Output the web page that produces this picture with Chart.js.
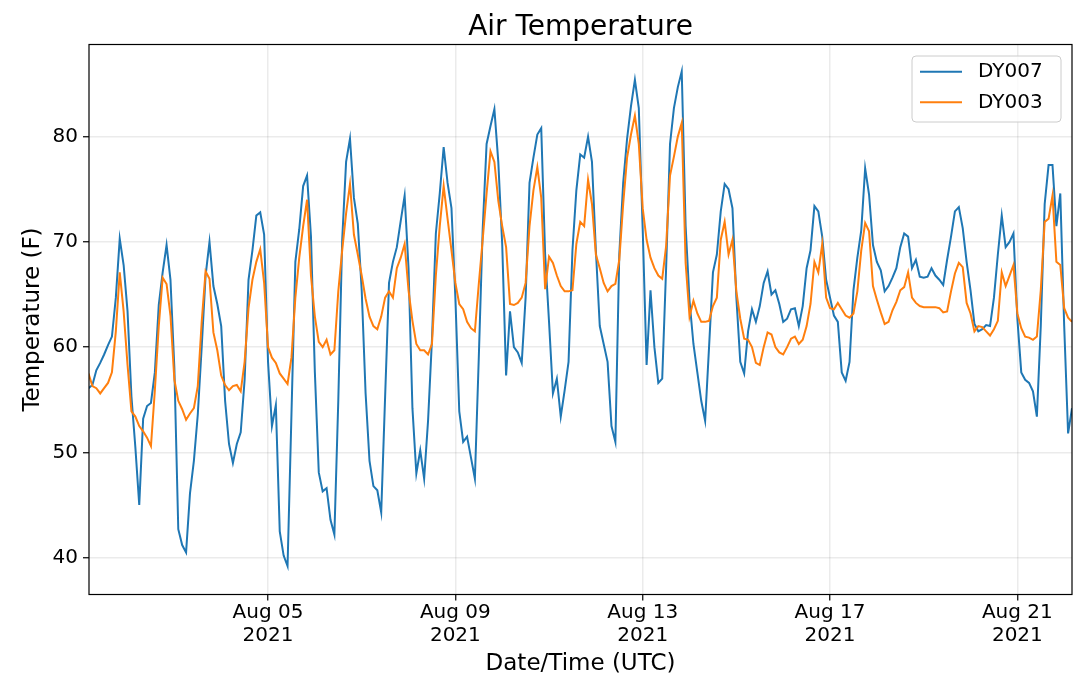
<!DOCTYPE html>
<html>
<head>
<meta charset="utf-8">
<title>Air Temperature</title>
<script src="https://cdn.jsdelivr.net/npm/chart.js@4.4.0/dist/chart.umd.min.js"></script>
<style>
  body { margin: 0; background: #fff; }
  canvas { display: block; }
</style>
</head>
<body>
<canvas id="tempChart" width="1080" height="700"></canvas>
<script>
// ===== Dữ liệu: nhiệt độ không khí, mỗi 2 giờ, từ 01/08 04:00 UTC =====
const startHour = 4; // giờ tính từ 2021-08-01 00:00 UTC
const stepHours = 2;

// DY007 – một dòng cho mỗi ngày
const dy007 = [
  56.1, 56.4, 57.8, 58.5, 59.3, 60.2, 61, 64.7, 70.3, 67.8,
  63.4, 55.3, 50.5, 45, 53.2, 54.4, 54.7, 57.6, 64, 67.1, 69.7, 66.4,
  58, 42.7, 41.2, 40.5, 46.1, 49.2, 53.6, 60, 66.8, 70, 65.8, 64.1,
  62, 54.9, 50.8, 49, 50.8, 51.9, 56.9, 66.4, 69.2, 72.5, 72.8, 70.7,
  58.6, 52.5, 54.5, 42.5, 40.2, 39.2, 53.6, 68.1, 71.2, 75.3, 76.3, 70.5,
  57.6, 48.1, 46.3, 46.6, 43.6, 42.2, 54.9, 70.2, 77.6, 79.8, 74.2, 71.7,
  65.4, 55.6, 49.2, 46.8, 46.4, 44.3, 55.3, 66.1, 68.1, 69.5, 72, 74.4,
  67.5, 54.2, 48, 50.2, 47.5, 53, 60.7, 70.8, 74.6, 79, 75.6, 73.2,
  64.7, 53.9, 51, 51.5, 49.5, 47.5, 59, 71.2, 79.3, 81, 82.6, 77.6,
  69.8, 57.3, 63.4, 60, 59.5, 58.5, 64.7, 75.6, 78, 80.2, 80.8, 68.8,
  62.4, 55.6, 57, 53.4, 55.9, 58.6, 69.2, 74.9, 78.3, 78, 80, 77.6,
  69.2, 62, 60.3, 58.6, 52.5, 51, 68.8, 75.6, 79.8, 82.9, 85.4, 82.7,
  71.2, 58.3, 65.4, 60, 56.6, 57, 67.5, 79.3, 82.7, 84.7, 86.2, 71.5,
  64.4, 60.3, 57.6, 54.9, 53, 60, 67.1, 68.8, 72.9, 75.5, 75, 73.2,
  64.7, 58.6, 57.5, 61.5, 63.6, 62.4, 63.9, 66.1, 67.2, 65, 65.4, 64.1,
  62.4, 62.7, 63.6, 63.7, 62, 63.9, 67.5, 69.2, 73.4, 72.9, 70.5, 66.4,
  64.7, 63, 62.4, 57.6, 56.8, 58.6, 65.4, 68.5, 71.1, 77, 74.5, 69.7,
  68.1, 67.3, 65.3, 65.8, 66.6, 67.5, 69.5, 70.8, 70.5, 67.5, 68.3, 66.7,
  66.6, 66.7, 67.5, 66.8, 66.4, 65.9, 68.3, 70.5, 72.9, 73.3, 71.3, 68.1,
  65.4, 62.2, 61.5, 61.7, 62.1, 62, 64.7, 68.8, 72.5, 69.5, 70, 70.8,
  62.7, 57.6, 56.9, 56.6, 55.8, 53.4, 62, 73.6, 77.3, 77.3, 71.5, 74.6,
  62, 51.8, 54.2,
];

// DY003 – một dòng cho mỗi ngày
const dy003 = [
  57.5, 56.3, 56.1, 55.6, 56.1, 56.6, 57.6, 61.5, 67.1, 63.4,
  58.3, 53.9, 53.4, 52.5, 52, 51.4, 50.6, 55.9, 62, 66.6, 66, 63,
  56.9, 54.9, 54.1, 53.1, 53.7, 54.2, 56.3, 62.4, 67.2, 66.5, 61.4, 59.7,
  57.3, 56.4, 55.9, 56.3, 56.4, 55.8, 58.6, 63.7, 66.4, 68.1, 69.3, 66.1,
  60, 59, 58.5, 57.5, 57, 56.5, 59, 64.7, 68.5, 71.5, 74, 66.8,
  62.9, 60.5, 60, 60.7, 59.3, 59.7, 65.3, 69.2, 72.7, 75.5, 70.7, 68.8,
  66.8, 64.6, 62.9, 62, 61.7, 62.9, 64.7, 65.3, 64.7, 67.5, 68.5, 69.8,
  65.4, 62.5, 60.3, 59.7, 59.7, 59.3, 60.3, 66.8, 71.5, 75.3, 72.2, 69.2,
  66.1, 64.1, 63.6, 62.4, 61.8, 61.5, 66, 70.2, 74.6, 78.6, 77.6, 73.9,
  71.5, 69.5, 64.1, 64, 64.2, 64.7, 66.1, 71.5, 74.9, 77.1, 74.2, 65.5,
  68.6, 68, 66.8, 65.8, 65.3, 65.3, 65.4, 69.8, 71.9, 71.5, 75.9, 73.6,
  68.8, 67.5, 66.1, 65.3, 65.8, 66, 68.3, 73.6, 78, 80.2, 82, 79.3,
  73.2, 70.2, 68.5, 67.5, 66.8, 66.5, 69.6, 76.3, 78.1, 80, 81.3, 68,
  62.9, 64.4, 63.2, 62.4, 62.4, 62.5, 63.9, 64.7, 70.2, 71.9, 68.8, 70.2,
  65.3, 62.7, 60.8, 60.7, 60, 58.5, 58.3, 60, 61.4, 61.2, 60, 59.5,
  59.3, 60, 60.8, 61, 60.3, 60.7, 62, 64.1, 68.1, 67.1, 69.8, 64.7,
  63.7, 63.6, 64.2, 63.6, 63, 62.8, 63.2, 65.3, 69.2, 71.8, 71, 65.8,
  64.5, 63.3, 62.2, 62.4, 63.5, 64.3, 65.4, 65.7, 67.1, 64.7, 64.2, 63.9,
  63.8, 63.8, 63.8, 63.8, 63.7, 63.3, 63.4, 65.3, 67, 68, 67.6, 64.2,
  63.2, 61.5, 62, 61.9, 61.5, 61.1, 61.7, 62.5, 67.1, 65.8, 66.8, 67.8,
  63.2, 61.8, 61, 60.9, 60.7, 61, 65.4, 71.9, 72.2, 74.4, 68.1, 67.8,
  63.7, 62.8, 62.4,
];

// Trục
const xTickHours = [96, 192, 288, 384, 480];
const xTickLabels = [
  ["Aug 05", "2021"],
  ["Aug 09", "2021"],
  ["Aug 13", "2021"],
  ["Aug 17", "2021"],
  ["Aug 21", "2021"],
];
const yTicks = [40, 50, 60, 70, 80];

const hours = dy007.map((_, i) => startHour + i * stepHours);
const toPoints = (vals) => vals.map((v, i) => ({ x: hours[i], y: v }));

// Khung trục 4 cạnh (kiểu matplotlib)
const axesFrame = {
  id: "axesFrame",
  afterDatasetsDraw(chart) {
    const { ctx, chartArea } = chart;
    ctx.save();
    ctx.strokeStyle = "#000";
    ctx.lineWidth = 1.2;
    ctx.strokeRect(chartArea.left, chartArea.top, chartArea.width, chartArea.height);
    ctx.restore();
  },
};

// Chú thích nằm trong vùng vẽ, góc trên phải
const legendInside = {
  id: "legendInside",
  afterDatasetsDraw(chart) {
    const { ctx, chartArea } = chart;
    const bx = chartArea.right - 160;
    const by = chartArea.top + 11.5;
    ctx.save();
    ctx.fillStyle = "rgba(255,255,255,0.8)";
    ctx.strokeStyle = "#cccccc";
    ctx.lineWidth = 1;
    ctx.beginPath();
    ctx.roundRect(bx, by, 149, 66, 4);
    ctx.fill();
    ctx.stroke();
    // thứ tự hiển thị: DY007 rồi DY003
    ["DY007", "DY003"].forEach((name, i) => {
      const ds = chart.data.datasets.find((d) => d.label === name);
      const ly = by + 15.7 + i * 30.6;
      ctx.strokeStyle = ds.borderColor;
      ctx.lineWidth = 2;
      ctx.beginPath();
      ctx.moveTo(bx + 8, ly);
      ctx.lineTo(bx + 50, ly);
      ctx.stroke();
      ctx.fillStyle = "#000";
      ctx.font = "20px 'DejaVu Sans'";
      ctx.textBaseline = "middle";
      ctx.textAlign = "left";
      ctx.fillText(name, bx + 66, ly);
    });
    ctx.restore();
  },
};

Chart.defaults.font.family = "'DejaVu Sans', sans-serif";
Chart.defaults.color = "#000";

const ctxTemp = document.getElementById("tempChart");
new Chart(ctxTemp, {
  type: "line",
  data: {
    datasets: [
      {
        label: "DY007",
        data: toPoints(dy007),
        borderColor: "#1f77b4",
        borderWidth: 2,
        pointRadius: 0,
        tension: 0,
        order: 1,
      },
      {
        label: "DY003",
        data: toPoints(dy003),
        borderColor: "#ff7f0e",
        borderWidth: 2,
        pointRadius: 0,
        tension: 0,
        order: 0,
      },
    ],
  },
  options: {
    responsive: false,
    animation: false,
    layout: { padding: { left: 0, right: 8, top: 0, bottom: 0 } },
    plugins: {
      legend: { display: false },
      tooltip: { enabled: false },
      title: {
        display: true,
        text: "Air Temperature",
        fullSize: false,
        font: { size: 28, weight: "normal" },
        color: "#000",
        padding: { top: 10.5, bottom: 0.4 },
      },
    },
    scales: {
      x: {
        type: "linear",
        min: 4.25,
        max: 508,
        afterFit: (scale) => { scale.height = 105.5; },
        afterBuildTicks: (scale) => {
          scale.ticks = xTickHours.map((v) => ({ value: v }));
        },
        ticks: {
          autoSkip: false,
          maxRotation: 0,
          padding: 1,
          font: { size: 20, lineHeight: 1.15 },
          callback: (value, index) => xTickLabels[index],
        },
        grid: {
          color: "rgba(0,0,0,0.08)",
          lineWidth: 1.5,
          tickLength: 6,
          tickColor: "#000",
          tickWidth: 1.2,
        },
        border: { display: false },
        title: {
          display: true,
          text: "Date/Time (UTC)",
          font: { size: 23 },
          padding: { top: 0, bottom: 22 },
        },
      },
      y: {
        min: 36.5,
        max: 88.75,
        afterFit: (scale) => { scale.width = 89; },
        afterBuildTicks: (scale) => {
          scale.ticks = yTicks.map((v) => ({ value: v }));
        },
        ticks: {
          padding: 5,
          font: { size: 20 },
          callback: (value) => String(value),
        },
        grid: {
          color: "rgba(0,0,0,0.08)",
          lineWidth: 1.5,
          tickLength: 6,
          tickColor: "#000",
          tickWidth: 1.2,
        },
        border: { display: false },
        title: {
          display: true,
          text: "Temperature (F)",
          font: { size: 23 },
          padding: { top: 19, bottom: 0 },
        },
      },
    },
  },
  plugins: [axesFrame, legendInside],
});
</script>
</body>
</html>
